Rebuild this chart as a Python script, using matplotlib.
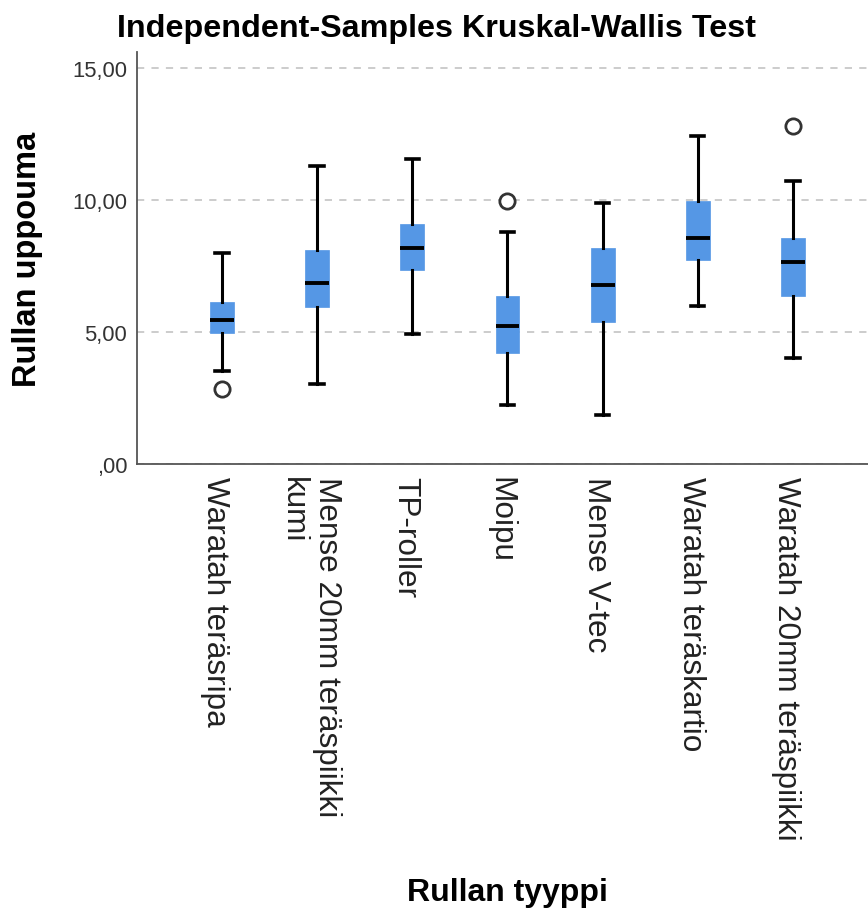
import matplotlib
matplotlib.use("Agg")
import matplotlib.pyplot as plt
from matplotlib.transforms import ScaledTranslation

plt.rcParams['font.family'] = ['Liberation Sans', 'DejaVu Sans']

# values (SPSS boxplot)
categories = ["Waratah teräsripa", "Mense 20mm teräspiikki\nkumi", "TP-roller", "Moipu",
              "Mense V-tec", "Waratah teräskartio", "Waratah 20mm teräspiikki"]
whisker_low = [3.53, 3.02, 4.92, 2.22, 1.84, 5.98, 4.00]
q1 = [4.95, 5.93, 7.35, 4.19, 5.37, 7.72, 6.38]
medians = [5.47, 6.84, 8.17, 5.21, 6.78, 8.57, 7.64]
q3 = [6.13, 8.12, 9.10, 6.36, 8.19, 9.96, 8.57]
whisker_high = [7.99, 11.29, 11.53, 8.80, 9.90, 12.41, 10.73]
outliers = [[2.84], [], [], [9.94], [], [], [12.78]]

y_ticks = [0, 5, 10, 15]
y_tick_labels = [",00", "5,00", "10,00", "15,00"]

box_color = "#5597E5"

fig = plt.figure(figsize=(8.68, 9.12), dpi=100)
ax = fig.add_axes([0.1578, 0.4901, 0.8537, 0.4518])

stats = []
for i in range(len(categories)):
    stats.append({
        'whislo': whisker_low[i], 'q1': q1[i], 'med': medians[i],
        'q3': q3[i], 'whishi': whisker_high[i], 'fliers': outliers[i],
    })

positions = list(range(1, len(categories) + 1))
ax.bxp(stats, positions=positions, widths=0.25, patch_artist=True,
       boxprops=dict(facecolor=box_color, edgecolor=box_color, linewidth=0.5),
       medianprops=dict(color="black", linewidth=2.8, solid_capstyle='butt'),
       whiskerprops=dict(color="black", linewidth=2.2),
       capprops=dict(color="black", linewidth=2.6),
       capwidths=0.14,
       flierprops=dict(marker='o', markersize=11, markerfacecolor='white',
                       markeredgecolor='#333333', markeredgewidth=2),
       zorder=3)

ax.set_xlim(0.107, 7.893)
ax.set_ylim(0, 15.6)

ax.set_yticks(y_ticks)
ax.set_yticklabels(y_tick_labels, fontsize=15.8, color="#333333")
ax.set_xticks(positions)
ax.set_xticklabels([])
ax.tick_params(axis='both', length=0)
ax.tick_params(axis='y', pad=7)

# category names: SPSS puts them a bit left of the tick, lines start at the top
offset = ScaledTranslation(-7 / 100, -12 / 100, fig.dpi_scale_trans)
for pos, name in zip(positions, categories):
    ax.text(pos, 0, name, transform=ax.get_xaxis_transform() + offset,
            rotation=270, ha='center', va='top', multialignment='left',
            fontsize=22.7, color="#222222")

ax.grid(axis='y', color="#c8c8c8", linestyle=(0, (4, 4)), linewidth=1.3, zorder=0)
ax.set_axisbelow(True)

for side in ['top', 'right']:
    ax.spines[side].set_visible(False)
for side in ['left', 'bottom']:
    ax.spines[side].set_color("#555555")
    ax.spines[side].set_linewidth(1.3)

ax.set_ylabel("Rullan uppouma", fontsize=23.5, fontweight='bold')
ax.yaxis.set_label_coords(-0.127, 0.5)
fig.text(0.585, 1 - 893 / 912, "Rullan tyyppi", fontsize=23, fontweight='bold',
         ha='center', va='center')
fig.text(436 / 868, 1 - 29 / 912, "Independent-Samples Kruskal-Wallis Test",
         fontsize=23.2, fontweight='bold', ha='center', va='center')

fig.savefig("out.png", dpi=100)
